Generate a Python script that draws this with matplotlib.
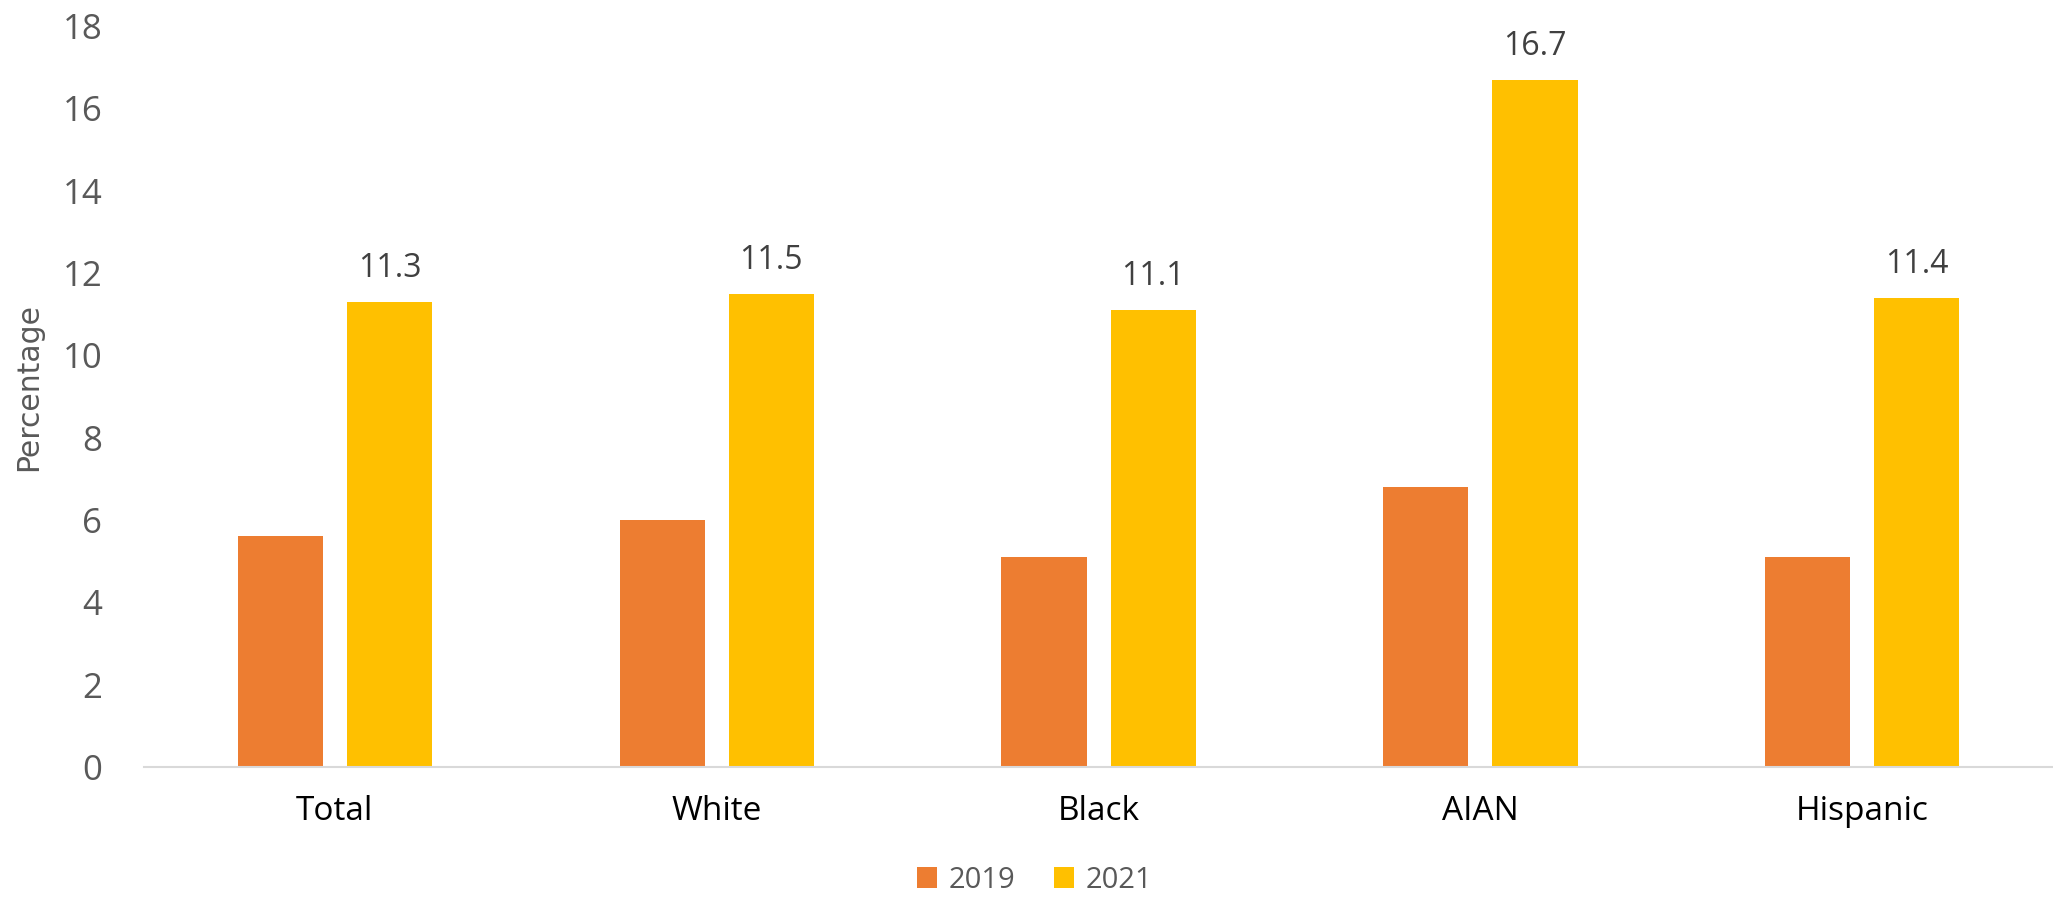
import matplotlib.pyplot as plt
import numpy as np

# data
groups = ['Total', 'White', 'Black', 'AIAN', 'Hispanic']
pct_2019 = [5.6, 6.0, 5.1, 6.8, 5.1]
pct_2021 = [11.3, 11.5, 11.1, 16.7, 11.4]

orange = '#ED7D31'
yellow = '#FFC000'

fig = plt.figure(figsize=(20.53, 9), dpi=100)
ax = fig.add_axes([0.0701, 0.148, 0.93, 0.823])

x = np.arange(len(groups))
w = 0.223
off = 0.143
b1 = ax.bar(x - off, pct_2019, w, color=orange, label='2019')
b2 = ax.bar(x + off, pct_2021, w, color=yellow, label='2021')

# only 2021 bars carry labels
ax.bar_label(b2, labels=[f'{v:.1f}' for v in pct_2021], padding=12,
             fontsize=23, color='#404040', family='Open Sans')

ax.set_xlim(-0.5, len(groups) - 0.5)
ax.set_ylim(0, 18)
ax.set_yticks(range(0, 19, 2))
ax.set_xticks(x)
ax.set_xticklabels(groups, fontsize=24, family='Open Sans', color='black')
for t in ax.get_yticklabels():
    t.set_fontsize(25)
    t.set_family('Open Sans')
    t.set_color('#595959')
ax.tick_params(axis='y', length=0, pad=30)
ax.tick_params(axis='x', length=0, pad=20)

for s in ['top', 'right', 'left']:
    ax.spines[s].set_visible(False)
ax.spines['bottom'].set_color('#D9D9D9')
ax.spines['bottom'].set_linewidth(1.5)

fig.text(0.014, 0.57, 'Percentage', rotation=90, ha='center', va='center',
         fontsize=21.5, color='#595959', family='Liberation Sans Narrow')

fig.legend(handles=[b1, b2], loc='center', bbox_to_anchor=(0.504, 0.022),
           ncol=2, frameon=False, handlelength=0.7, handleheight=0.7,
           handletextpad=0.4, columnspacing=1.3, labelcolor='#595959',
           prop={'family': 'Open Sans', 'size': 21})

fig.savefig('out.png', dpi=100)
